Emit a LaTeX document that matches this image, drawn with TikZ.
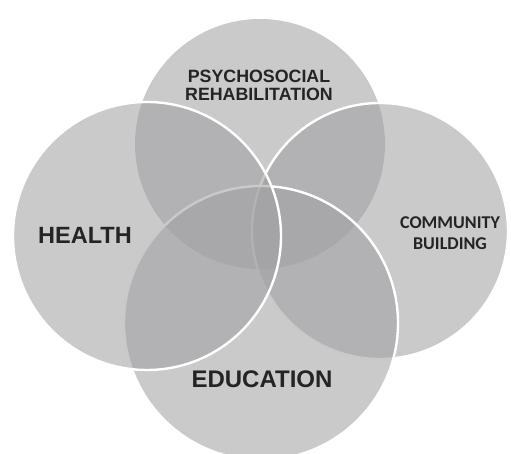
\documentclass[tikz,border=0pt]{standalone}
\usepackage{fontspec}
\setmainfont{Liberation Sans}
\newfontfamily\carlito{Carlito}
\definecolor{discgray}{RGB}{160,160,162}
\definecolor{txtgray}{RGB}{36,36,36}
\tikzset{
  disc/.style={circle, inner sep=0pt, fill=discgray, fill opacity=0.56},
  rimmed/.style={disc, draw=white, draw opacity=1, line width=2.4pt},
  label/.style={text=txtgray, font=\bfseries, align=center, inner sep=0pt}
}
\begin{document}
\begin{tikzpicture}[x=1pt,y=-1pt]
\useasboundingbox (0,0) rectangle (511,454);
\clip (0,0) rectangle (511,454);
\node[disc, minimum size=250pt] (psych) at (260,144) {};
\node[rimmed, minimum size=256pt] (comm) at (380,231) {};
\node[rimmed, minimum size=274pt] (edu) at (261,323) {};
\node[rimmed, minimum size=268pt] (health) at (147,236) {};
\node[label, font=\bfseries\fontsize{17.8}{18}\selectfont] (tpsych) at (259,85) {PSYCHOSOCIAL\\REHABILITATION};
\node[label, font=\bfseries\fontsize{23.5}{26}\selectfont] (thealth) at (85,235) {HEALTH};
\node[label, font=\carlito\bfseries\fontsize{18}{21}\selectfont] (tcomm) at (450,233) {COMMUNITY\\BUILDING};
\node[label, font=\bfseries\fontsize{24}{26}\selectfont] (tedu) at (262,379) {EDUCATION};
\end{tikzpicture}
\end{document}
